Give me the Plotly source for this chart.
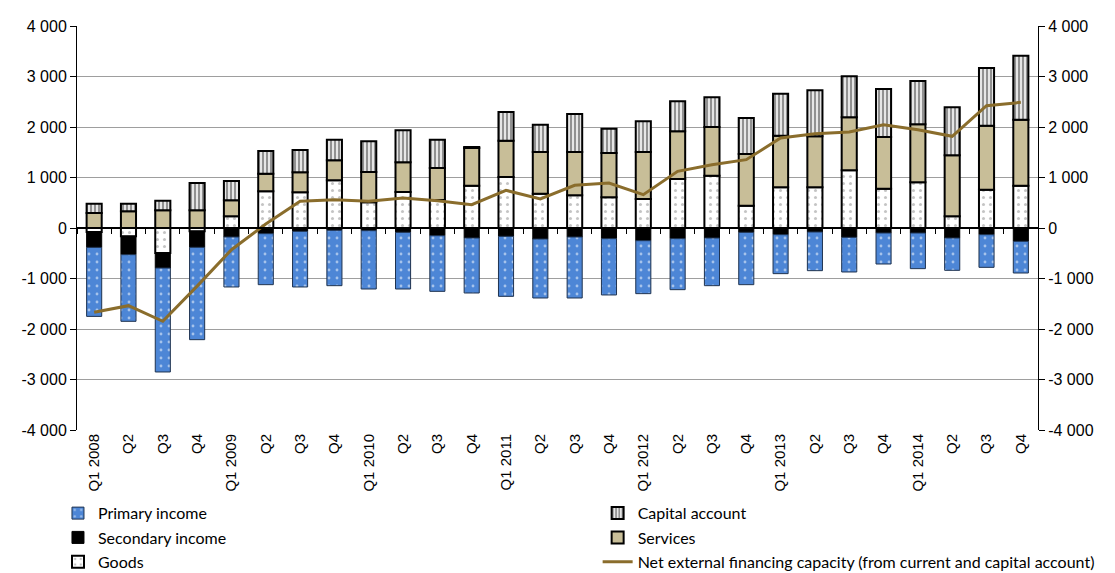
import plotly.graph_objects as go

# Quarterly categories, 2008-2014
quarters = [
    "Q1 2008", "Q2 2008", "Q3 2008", "Q4 2008",
    "Q1 2009", "Q2 2009", "Q3 2009", "Q4 2009",
    "Q1 2010", "Q2 2010", "Q3 2010", "Q4 2010",
    "Q1 2011", "Q2 2011", "Q3 2011", "Q4 2011",
    "Q1 2012", "Q2 2012", "Q3 2012", "Q4 2012",
    "Q1 2013", "Q2 2013", "Q3 2013", "Q4 2013",
    "Q1 2014", "Q2 2014", "Q3 2014", "Q4 2014",
]
quarter_labels = [
    "Q1 2008", "Q2", "Q3", "Q4",
    "Q1 2009", "Q2", "Q3", "Q4",
    "Q1 2010", "Q2", "Q3", "Q4",
    "Q1 2011", "Q2", "Q3", "Q4",
    "Q1 2012", "Q2", "Q3", "Q4",
    "Q1 2013", "Q2", "Q3", "Q4",
    "Q1 2014", "Q2", "Q3", "Q4",
]

goods = [-80, -165, -495, -66, 231, 726, 706, 944,
         508, 713, 554, 838, 1010, 680, 647, 607,
         574, 970, 1036, 442, 805, 805, 1142, 779,
         904, 231, 759, 838]
secondary_income = [-304, -363, -297, -317, -178, -112, -66, -46,
                    -53, -86, -152, -198, -165, -218, -178, -211,
                    -251, -211, -198, -86, -132, -79, -185, -99,
                    -99, -198, -132, -264]
primary_income = [-1366, -1320, -2059, -1828, -990, -1010, -1102, -1096,
                  -1155, -1122, -1102, -1089, -1188, -1168, -1208, -1115,
                  -1049, -1010, -944, -1036, -772, -766, -686, -614,
                  -706, -640, -647, -627]
services = [297, 330, 350, 350, 317, 350, 396, 396,
            601, 587, 634, 746, 719, 825, 858, 878,
            931, 944, 964, 1023, 1023, 1010, 1049, 1023,
            1148, 1208, 1267, 1307]
capital_account = [185, 152, 191, 541, 383, 449, 442, 409,
                   607, 634, 561, 20, 568, 541, 752, 482,
                   607, 594, 587, 713, 832, 911, 812, 950,
                   858, 950, 1142, 1267]
net_financing = [-1670, -1538, -1848, -1150, -430, 80, 528, 561,
                 528, 594, 541, 462, 746, 574, 845, 891,
                 660, 1122, 1254, 1353, 1782, 1868, 1901, 2046,
                 1947, 1815, 2422, 2488]

y_ticks = [-4000, -3000, -2000, -1000, 0, 1000, 2000, 3000, 4000]
y_tick_labels = ["-4 000", "-3 000", "-2 000", "-1 000", "0",
                 "1 000", "2 000", "3 000", "4 000"]

BLUE = "#4D86D6"
TAN = "#C8BE98"
LINE_BROWN = "#8A6D2C"
FONT = "Liberation Sans"
LEGEND_FONT = "Lato"

fig = go.Figure()

bar_common = dict(x=quarters, width=0.44)

fig.add_trace(go.Bar(
    name="Goods", y=goods, **bar_common,
    marker=dict(color="white", line=dict(color="black", width=2),
                pattern=dict(shape=".", fgcolor="#8a8a8a", bgcolor="white",
                             size=7, solidity=0.15)),
    legend="legend", legendrank=3, legendgroup="g3",
))
fig.add_trace(go.Bar(
    name="Secondary income", y=secondary_income, **bar_common,
    marker=dict(color="black", line=dict(color="black", width=1)),
    legend="legend", legendrank=2, legendgroup="g2",
))
fig.add_trace(go.Bar(
    name="Primary income", y=primary_income, **bar_common,
    marker=dict(color=BLUE, line=dict(color="#1f3350", width=1),
                pattern=dict(shape=".", fgcolor="white", bgcolor=BLUE,
                             size=8, solidity=0.1)),
    legend="legend", legendrank=1, legendgroup="g1",
))
fig.add_trace(go.Bar(
    name="Services", y=services, **bar_common,
    marker=dict(color=TAN, line=dict(color="black", width=2)),
    legend="legend2", legendrank=5, legendgroup="g5",
))
fig.add_trace(go.Bar(
    name="Capital account", y=capital_account, **bar_common,
    marker=dict(color="#d0d0d0", line=dict(color="black", width=2),
                pattern=dict(shape="|", fgcolor="#2a2a2a", bgcolor="#e6e6e6",
                             size=4, solidity=0.45)),
    legend="legend2", legendrank=4, legendgroup="g4",
))
fig.add_trace(go.Scatter(
    name="Net external financing capacity (from current and capital account)",
    x=quarters, y=net_financing, mode="lines",
    line=dict(color=LINE_BROWN, width=3),
    xaxis="x2", yaxis="y2",
    legend="legend2", legendrank=6, legendgroup="g6",
))

axis_font = dict(family=FONT, size=16, color="black")
legend_font = dict(family=LEGEND_FONT, size=16, color="black")

fig.update_layout(
    width=1115, height=573,
    margin=dict(l=77, r=77, t=26, b=143, autoexpand=False),
    paper_bgcolor="white", plot_bgcolor="white",
    barmode="relative",
    font=dict(family=FONT, size=15, color="black"),
    xaxis=dict(
        type="category", categoryorder="array", categoryarray=quarters,
        tickmode="array", tickvals=quarters, ticktext=quarter_labels,
        tickangle=-90, tickfont=dict(family=FONT, size=15),
        ticks="", showgrid=False, showline=False, zeroline=False,
        range=[-0.5, len(quarters) - 0.5], automargin=False,
    ),
    xaxis2=dict(
        type="category", matches="x", overlaying="x",
        anchor="free", position=0.5,
        showticklabels=False, showgrid=False,
        showline=True, linecolor="black", linewidth=1.5,
        ticks="outside", tickson="boundaries", ticklen=5,
        tickcolor="black", tickwidth=1, automargin=False,
    ),
    yaxis=dict(
        range=[-4000, 4000], tickvals=y_ticks, ticktext=y_tick_labels,
        tickfont=axis_font, showgrid=True, gridcolor="#9e9e9e", gridwidth=1,
        zeroline=False, showline=True, linecolor="black", linewidth=1,
        ticks="outside", ticklen=6, tickcolor="black", automargin=False,
    ),
    yaxis2=dict(
        matches="y", overlaying="y", side="right", anchor="x2",
        tickvals=y_ticks, ticktext=y_tick_labels, tickfont=axis_font,
        showgrid=False, zeroline=False,
        showline=True, linecolor="black", linewidth=1,
        ticks="outside", ticklen=6, tickcolor="black", automargin=False,
    ),
    legend=dict(
        xref="container", yref="container",
        x=0.052, y=0.134, xanchor="left", yanchor="top",
        orientation="v", tracegroupgap=0.5, traceorder="grouped",
        font=legend_font, bgcolor="rgba(0,0,0,0)",
    ),
    legend2=dict(
        xref="container", yref="container",
        x=0.536, y=0.134, xanchor="left", yanchor="top",
        orientation="v", tracegroupgap=0.5, traceorder="grouped",
        font=legend_font, bgcolor="rgba(0,0,0,0)",
    ),
    showlegend=True,
)

fig.write_html("out.html")
